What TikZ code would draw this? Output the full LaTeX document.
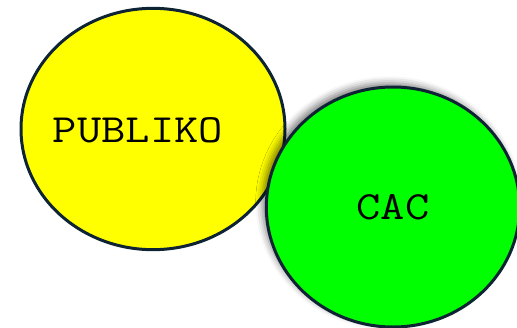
\documentclass[tikz,border=0pt]{standalone}
\usepackage{fontspec}
\usepackage{graphicx}
\usetikzlibrary{shapes.geometric,shadows.blur}
\definecolor{rimblue}{RGB}{14,35,51}
\tikzset{every picture/.style={line width=0.75pt}}
\tikzset{
	bubble/.style={ellipse, draw=rimblue, line width=2.25pt, inner sep=0pt},
	bubbletext/.style={font=\ttfamily\fontsize{30}{30}\selectfont, text=black}}
\newcommand{\widetext}[1]{\scalebox{1.18}[1]{#1}}

\begin{document}
\begin{tikzpicture}[x=0.75pt,y=0.75pt,yscale=-1,xscale=1]
	\useasboundingbox (0,0) rectangle (517,328);
	\clip (0,0) rectangle (517,328);

	%Shape: Ellipse [id:publiko]
	\node (publiko) [bubble, fill={rgb, 255:red, 255; green, 255; blue, 0 }, minimum width=198pt, minimum height=181pt] at (153,129) {};
	%Shape: Ellipse [id:cac]
	\node (cac) [bubble, fill={rgb, 255:red, 0; green, 255; blue, 0 }, minimum width=190pt, minimum height=180pt,
		blur shadow={shadow xshift=-3pt, shadow yshift=3pt, shadow blur radius=5pt, shadow opacity=50}] at (393,207) {};

	% Text Node
	\node (publikotext) [bubbletext] at (138,130) {\widetext{PUBLIKO}};
	% Text Node
	\node (cactext) [bubbletext] at (cac.center) {\widetext{CAC}};

\end{tikzpicture}
\end{document}
